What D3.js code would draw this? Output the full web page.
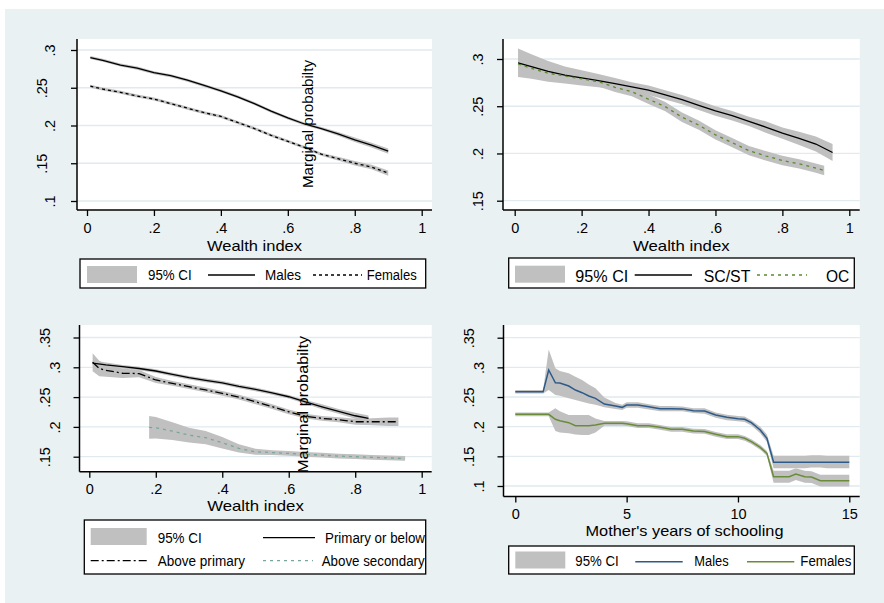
<!DOCTYPE html>
<html>
<head>
<meta charset="utf-8">
<script src="https://cdn.jsdelivr.net/npm/d3@7"></script>
<style>
body { margin: 0; background: #fff; }
</style>
</head>
<body>
<div id="chart"></div>
<script>
// ---- data ----

// panel 1: wealth index, by sex
const wealth1 = [0.01,0.05,0.10,0.15,0.20,0.25,0.30,0.35,0.40,0.45,0.50,0.55,0.60,0.65,0.70,0.75,0.80,0.85,0.90];
const males1 = [.290,.286,.280,.276,.270,.266,.260,.253,.246,.238,.229,.219,.210,.202,.196,.189,.181,.174,.166];
const females1 = [.252,.248,.244,.239,.235,.229,.223,.217,.212,.204,.196,.187,.179,.171,.162,.156,.150,.145,.137];
const ciMales1 = [.002,.002,.002,.002,.002,.002,.002,.002,.002,.002,.002,.002,.002,.002,.002,.0025,.003,.003,.0035];
const ciFemales1 = [.002,.002,.002,.002,.002,.002,.002,.002,.002,.002,.002,.002,.002,.002,.002,.0025,.003,.003,.0035];

// panel 2: wealth index, by caste
const wealth2 = [0.01,0.05,0.10,0.15,0.20,0.25,0.30,0.35,0.40,0.45,0.50,0.55,0.60,0.65,0.70,0.75,0.80,0.85,0.90,0.95];
const scst2 = [.296,.292,.287,.283,.280,.277,.274,.2705,.267,.262,.257,.251,.245,.240,.234,.228,.2215,.216,.210,.201];
const ciScst2 = [.015,.013,.011,.009,.008,.007,.006,.005,.005,.005,.005,.005,.005,.005,.005,.006,.006,.007,.008,.009];
const wealth2oc = [0.01,0.05,0.10,0.15,0.20,0.25,0.30,0.35,0.40,0.45,0.50,0.55,0.60,0.65,0.70,0.75,0.80,0.85,0.90,0.925];
const oc2 = [.2947,.290,.285,.282,.279,.276,.270,.2655,.2574,.2496,.2384,.230,.2197,.2115,.203,.1975,.1925,.189,.1845,.182];
const ciOc2 = [.006,.006,.006,.005,.005,.005,.005,.005,.005,.005,.005,.005,.005,.005,.005,.005,.005,.005,.005,.005];

// panel 3: wealth index, by mother's education
const wealth3prim = [.01,.05,.10,.15,.20,.25,.30,.35,.40,.45,.50,.55,.60,.65,.70,.75,.80,.84];
const prim3 = [.307,.304,.301,.298,.2938,.288,.2826,.278,.274,.268,.263,.257,.2506,.242,.2338,.226,.2187,.2143];
const ciPrim3 = [.004,.004,.003,.003,.003,.003,.003,.003,.003,.003,.003,.003,.003,.003,.004,.004,.005,.005];
const wealth3abvPrim = [.01,.03,.05,.10,.15,.20,.25,.30,.35,.40,.45,.50,.55,.60,.65,.70,.75,.80,.85,.90,.93];
const abvPrim3 = [.3084,.298,.295,.290,.2895,.2787,.273,.2674,.262,.2563,.250,.2422,.234,.2254,.218,.2143,.212,.2086,.2086,.2086,.2086];
const ciAbvPrim3 = [.015,.013,.011,.008,.006,.005,.004,.004,.004,.004,.004,.004,.004,.004,.004,.004,.004,.005,.006,.007,.007];
const wealth3abvSec = [.18,.20,.25,.30,.35,.40,.45,.50,.55,.60,.65,.70,.75,.80,.85,.90,.95];
const abvSec3 = [.1992,.1985,.193,.1862,.182,.1733,.1639,.1582,.157,.1555,.154,.1526,.151,.150,.149,.148,.147];
const ciAbvSec3 = [.019,.018,.015,.0125,.011,.0097,.007,.005,.004,.004,.004,.004,.004,.004,.004,.004,.004];

// panel 4: mother's years of schooling, by sex
const school4 = [0,0.5,1,1.25,1.5,1.8,2,2.4,2.7,3,3.3,3.6,4,4.5,4.8,5,5.5,6,6.5,7,7.5,8,8.5,9,9.5,10,10.3,10.6,11,11.3,11.6,12,12.3,12.6,13,13.3,13.7,14,14.5,15];
const males4 = [.259,.259,.259,.259,.2956,.274,.2735,.2686,.2618,.2573,.2517,.2478,.2382,.2349,.2326,.2365,.2365,.2337,.2303,.2303,.230,.227,.2265,.2197,.2158,.2135,.2125,.2068,.1944,.1804,.140,.140,.140,.140,.140,.140,.140,.140,.140,.140];
const males4lo = [.256,.256,.256,.256,.262,.2534,.252,.2478,.245,.242,.239,.237,.2326,.230,.228,.232,.232,.229,.226,.226,.226,.223,.222,.215,.211,.209,.208,.202,.189,.174,.130,.130,.130,.130,.130,.131,.131,.130,.130,.130];
const males4hi = [.262,.262,.262,.262,.330,.2984,.294,.290,.284,.2787,.271,.2647,.249,.240,.237,.241,.241,.238,.235,.235,.234,.231,.231,.224,.220,.218,.217,.211,.200,.187,.151,.151,.151,.151,.151,.152,.152,.151,.151,.151];
const females4 = [.2208,.2208,.2208,.2208,.2208,.2124,.210,.2068,.2017,.2017,.2017,.203,.2057,.2057,.2057,.205,.2017,.2017,.199,.1955,.1955,.1927,.192,.1871,.1832,.1832,.1804,.1747,.1652,.155,.1157,.1157,.1157,.1202,.1157,.115,.109,.109,.109,.109];
const females4lo = [.2175,.2175,.2175,.2175,.2175,.1927,.190,.1888,.187,.186,.186,.190,.2015,.2015,.2015,.201,.1977,.1977,.195,.1915,.1915,.1887,.188,.1831,.1792,.1792,.1764,.1707,.1612,.151,.1056,.1056,.1056,.110,.1056,.105,.099,.099,.099,.099];
const females4hi = [.224,.224,.224,.224,.224,.231,.226,.2197,.2197,.2197,.2197,.214,.2095,.2095,.2095,.209,.2057,.2057,.203,.1995,.1995,.1967,.196,.1911,.1872,.1872,.1844,.1787,.1692,.159,.1258,.1258,.1258,.130,.1258,.125,.119,.119,.119,.119];

// tick values
const wealthTicks = [0,.2,.4,.6,.8,1];
const schoolTicks = [0,5,10,15];
const yTicks1 = [.1,.15,.2,.25,.3];
const yTicks2 = [.15,.2,.25,.3];
const yTicks3 = [.15,.2,.25,.3,.35];
const yTicks4 = [.1,.15,.2,.25,.3,.35];

// ---- styles ----
const FONT = '"Liberation Sans", Arial, sans-serif';
const CI_GREY = "#c0c0c0";
const BG = "#eaf1f3";
const GRID = "#e1eaee";
const TICK_SIZE = 14.5;
const STYLE = {
    solid:   {stroke: "#000", w: 1.3, dash: null},
    dashed:  {stroke: "#000", w: 1.3, dash: "3,3"},
    oc:      {stroke: "#5a8a2c", w: 1.3, dash: "3,4"},
    dashdot: {stroke: "#000", w: 1.3, dash: "8,3,2,3"},
    teal:    {stroke: "#78a69b", w: 1.3, dash: "3,4"},
    blue:    {stroke: "#2c5a8a", w: 1.5, dash: null},
    green:   {stroke: "#6a8c38", w: 1.5, dash: null}
};

const stataFmt = d => d === 0 ? "0" : String(d).replace(/^0\./, ".");

const svg = d3.select("#chart").append("svg")
    .attr("width", 884)
    .attr("height", 603);

svg.append("rect").attr("width", 884).attr("height", 603).attr("fill", "#fff");
svg.append("rect").attr("x", 5).attr("y", 9).attr("width", 879).attr("height", 594).attr("fill", BG);

function drawPanel(p) {
    const g = svg.append("g");
    const [L, T, R, B] = p.box;
    g.append("rect")
        .attr("x", L).attr("y", T)
        .attr("width", R - L).attr("height", B - T)
        .attr("fill", "#fff");

    const x = d3.scaleLinear().domain(p.xDomain).range(p.xRange);
    const y = d3.scaleLinear().domain(p.yDomain).range(p.yRange);

    g.selectAll("line.grid").data(p.yTicks).join("line")
        .attr("class", "grid")
        .attr("x1", L).attr("x2", R)
        .attr("y1", d => y(d)).attr("y2", d => y(d))
        .attr("stroke", GRID).attr("stroke-width", 1.3);

    const rows = p.series.map(s => s.x.map((v, i) => ({
        x: v,
        v: s.y[i],
        lo: s.lo ? s.lo[i] : s.y[i] - s.ci[i],
        hi: s.hi ? s.hi[i] : s.y[i] + s.ci[i]
    })));

    const area = d3.area().x(d => x(d.x)).y0(d => y(d.lo)).y1(d => y(d.hi));
    rows.forEach(r => {
        g.append("path").datum(r).attr("d", area).attr("fill", CI_GREY);
    });

    const line = d3.line().x(d => x(d.x)).y(d => y(d.v));
    rows.forEach((r, i) => {
        const st = STYLE[p.series[i].style];
        g.append("path").datum(r)
            .attr("d", line)
            .attr("fill", "none")
            .attr("stroke", st.stroke)
            .attr("stroke-width", st.w)
            .attr("stroke-dasharray", st.dash);
    });

    // y axis
    const yAxis = g.append("g")
        .attr("transform", `translate(${L},0)`)
        .call(d3.axisLeft(y).tickValues(p.yTicks).tickSize(6).tickFormat(stataFmt));
    yAxis.select(".domain").remove();
    yAxis.selectAll(".tick line").attr("stroke", "#000").attr("stroke-width", 1.3);
    yAxis.selectAll(".tick text")
        .attr("x", null).attr("dy", null)
        .attr("text-anchor", "middle")
        .attr("font-family", FONT).attr("font-size", TICK_SIZE).attr("fill", "#000")
        .attr("transform", d => {
            const off = stataFmt(d).length > 2 ? p.labOff[1] : p.labOff[0];
            return `translate(${-off},0) rotate(-90)`;
        });

    // x axis
    const xAxis = g.append("g")
        .attr("transform", `translate(0,${B})`)
        .call(d3.axisBottom(x).tickValues(p.xTicks).tickSize(6).tickFormat(stataFmt));
    xAxis.select(".domain").remove();
    xAxis.selectAll(".tick line").attr("stroke", "#000").attr("stroke-width", 1.3);
    xAxis.selectAll(".tick text")
        .attr("y", 22.5).attr("dy", null)
        .attr("font-family", FONT).attr("font-size", TICK_SIZE).attr("fill", "#000");

    g.append("line").attr("x1", L).attr("x2", L).attr("y1", T).attr("y2", B)
        .attr("stroke", "#000").attr("stroke-width", 1.5);
    g.append("line").attr("x1", L).attr("x2", R).attr("y1", B).attr("y2", B)
        .attr("stroke", "#000").attr("stroke-width", 1.5);

    g.append("text")
        .attr("x", p.title.x).attr("y", p.title.y)
        .attr("text-anchor", "middle")
        .attr("font-family", FONT).attr("font-size", 14.5)
        .attr("textLength", p.title.len).attr("lengthAdjust", "spacingAndGlyphs")
        .text(p.title.text);

    if (p.vlabel) {
        g.append("text")
            .attr("transform", `translate(${p.vlabel.x},${p.vlabel.y}) rotate(-90)`)
            .attr("text-anchor", "middle")
            .attr("font-family", FONT).attr("font-size", 14.5)
            .attr("textLength", p.vlabel.len).attr("lengthAdjust", "spacingAndGlyphs")
            .text("Marginal probabilty");
    }

    // legend
    const lg = p.legend;
    const lgG = svg.append("g");
    lgG.append("rect")
        .attr("x", lg.box[0]).attr("y", lg.box[1])
        .attr("width", lg.box[2] - lg.box[0]).attr("height", lg.box[3] - lg.box[1])
        .attr("fill", "#fff").attr("stroke", "#000").attr("stroke-width", 1.3);
    lg.items.forEach(it => {
        if (it.sym === "band") {
            lgG.append("rect")
                .attr("x", it.sx).attr("y", it.sy - 8.5)
                .attr("width", it.sw).attr("height", 17)
                .attr("fill", CI_GREY);
        } else {
            const st = STYLE[it.sym];
            lgG.append("line")
                .attr("x1", it.sx).attr("x2", it.sx + it.sw)
                .attr("y1", it.sy).attr("y2", it.sy)
                .attr("stroke", st.stroke).attr("stroke-width", st.w)
                .attr("stroke-dasharray", st.dash);
        }
        lgG.append("text")
            .attr("x", it.tx).attr("y", it.ty)
            .attr("font-family", FONT).attr("font-size", lg.size)
            .attr("textLength", it.tl).attr("lengthAdjust", "spacingAndGlyphs")
            .text(it.label);
    });
}

drawPanel({
    box: [77, 39, 432, 210],
    xDomain: [0, 1], xRange: [87, 421.7],
    yDomain: [.1, .3], yRange: [201, 50],
    xTicks: wealthTicks, yTicks: yTicks1, labOff: [22, 30.5],
    series: [
        {x: wealth1, y: males1, ci: ciMales1, style: "solid"},
        {x: wealth1, y: females1, ci: ciFemales1, style: "dashed"}
    ],
    title: {text: "Wealth index", x: 254.5, y: 250.5, len: 95},
    vlabel: {x: 313, y: 124, len: 128},
    legend: {
        box: [80, 259, 425.7, 288], size: 14,
        items: [
            {sym: "band", sx: 87, sy: 274.5, sw: 50, label: "95% CI", tx: 148, ty: 280, tl: 43.7},
            {sym: "solid", sx: 208, sy: 275, sw: 47, label: "Males", tx: 265, ty: 280, tl: 36},
            {sym: "dashed", sx: 313, sy: 275, sw: 49, label: "Females", tx: 366.7, ty: 280, tl: 50}
        ]
    }
});

drawPanel({
    box: [503, 39, 859.7, 210],
    xDomain: [0, 1], xRange: [514.7, 849.3],
    yDomain: [.15, .3], yRange: [200.7, 59],
    xTicks: wealthTicks, yTicks: yTicks2, labOff: [20, 20],
    series: [
        {x: wealth2, y: scst2, ci: ciScst2, style: "solid"},
        {x: wealth2oc, y: oc2, ci: ciOc2, style: "oc"}
    ],
    title: {text: "Wealth index", x: 681.3, y: 250.5, len: 96.7},
    legend: {
        box: [508.7, 258, 854.3, 288], size: 16,
        items: [
            {sym: "band", sx: 515, sy: 274.2, sw: 50, label: "95% CI", tx: 575.3, ty: 281.7, tl: 53},
            {sym: "solid", sx: 634.7, sy: 275, sw: 57.3, label: "SC/ST", tx: 703.7, ty: 281.7, tl: 46.7},
            {sym: "oc", sx: 757, sy: 275, sw: 50, label: "OC", tx: 826, ty: 281.7, tl: 23.3}
        ]
    }
});

drawPanel({
    box: [79.5, 325, 431.7, 471.7],
    xDomain: [0, 1], xRange: [89.3, 421.7],
    yDomain: [.15, .35], yRange: [456.7, 337.5],
    xTicks: wealthTicks, yTicks: yTicks3, labOff: [20, 30],
    series: [
        {x: wealth3prim, y: prim3, ci: ciPrim3, style: "solid"},
        {x: wealth3abvPrim, y: abvPrim3, ci: ciAbvPrim3, style: "dashdot"},
        {x: wealth3abvSec, y: abvSec3, ci: ciAbvSec3, style: "teal"}
    ],
    title: {text: "Wealth index", x: 255.5, y: 511, len: 96.7},
    vlabel: {x: 308, y: 404.5, len: 137},
    legend: {
        box: [84.3, 520, 425.7, 574], size: 14,
        items: [
            {sym: "band", sx: 90.7, sy: 536.5, sw: 56, label: "95% CI", tx: 157.7, ty: 543, tl: 44},
            {sym: "solid", sx: 263, sy: 537.7, sw: 52, label: "Primary or below", tx: 325, ty: 543, tl: 100},
            {sym: "dashdot", sx: 90.7, sy: 560.7, sw: 56, label: "Above primary", tx: 157.7, ty: 566, tl: 87.3},
            {sym: "teal", sx: 263, sy: 560.7, sw: 50, label: "Above secondary", tx: 321.7, ty: 566, tl: 103}
        ]
    }
});

drawPanel({
    box: [503.5, 325, 859.7, 496.5],
    xDomain: [0, 15], xRange: [515.3, 849.3],
    yDomain: [.1, .35], yRange: [486, 337.7],
    xTicks: schoolTicks, yTicks: yTicks4, labOff: [20, 30],
    series: [
        {x: school4, y: males4, lo: males4lo, hi: males4hi, style: "blue"},
        {x: school4, y: females4, lo: females4lo, hi: females4hi, style: "green"}
    ],
    title: {text: "Mother's years of schooling", x: 684.5, y: 536, len: 198},
    legend: {
        box: [508.7, 546, 854.3, 574], size: 14,
        items: [
            {sym: "band", sx: 515.3, sy: 560, sw: 50, label: "95% CI", tx: 575.3, ty: 566, tl: 43.3},
            {sym: "blue", sx: 635.3, sy: 561.7, sw: 47.4, label: "Males", tx: 694.3, ty: 566, tl: 34.3},
            {sym: "green", sx: 747, sy: 561.7, sw: 47.3, label: "Females", tx: 800.3, ty: 566, tl: 51}
        ]
    }
});
</script>
</body>
</html>
